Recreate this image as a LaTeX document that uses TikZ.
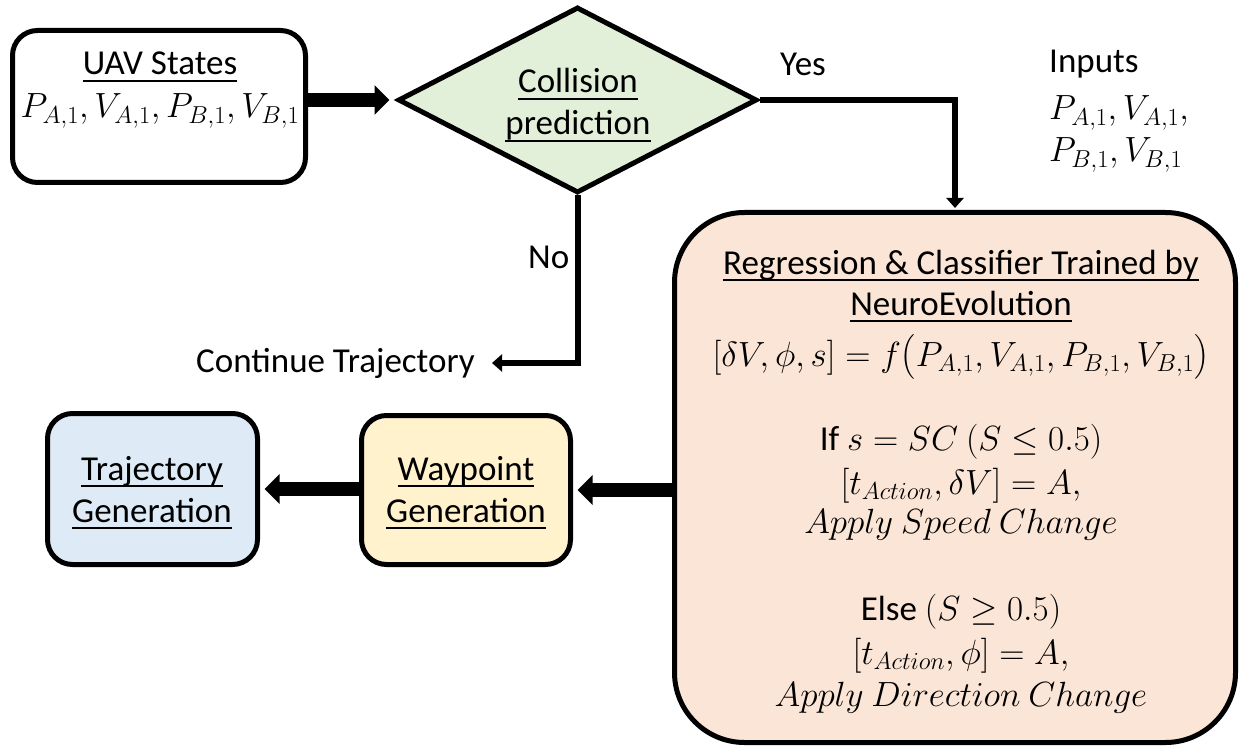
\RequirePackage{fix-cm}
\documentclass[tikz,border=0pt]{standalone}
\usepackage{amsmath}
\usepackage[no-math]{fontspec}
\setmainfont{Carlito}
\usetikzlibrary{shapes.geometric,arrows.meta}
\definecolor{diac}{RGB}{226,240,217}
\definecolor{bigc}{RGB}{251,229,214}
\definecolor{wayc}{RGB}{255,242,204}
\definecolor{trac}{RGB}{222,235,247}
\newcommand\ulx[1]{\sbox0{#1}\rlap{\rule[-7.2pt]{\wd0}{2.4pt}}\usebox0}
\begin{document}
\begin{tikzpicture}[x=1pt,y=-1pt,
  every node/.style={font=\fontsize{35}{42}\selectfont, inner sep=0pt},
  box/.style={draw, line width=5pt, rounded corners=25pt, inner sep=0pt},
  txt/.style={anchor=base, inner sep=0pt},
  txtw/.style={anchor=base west, inner sep=0pt},
  bigarrow/.style={line width=14pt, -{Triangle[length=15pt,width=29pt]}},
  thinarrow/.style={line width=6pt, -{Triangle[length=10pt,width=17pt]}}]
\useasboundingbox (0,0) rectangle (1258,754);

% UAV states
\node[box, fill=white, minimum width=293pt, minimum height=152pt] (uav) at (159,106.5) {};
\node[txt] (uavt) at (160,75) {\ulx{UAV States}};
\node[txt] (uavm) at (160,118) {$P_{A,1},V_{A,1},P_{B,1},V_{B,1}$};

% Decision
\node[diamond, draw, line width=5pt, fill=diac, minimum width=359pt, minimum height=186pt, inner sep=0pt] (dia) at (577.5,100) {};
\node[txt] (diat1) at (578,93) {\ulx{Collision}};
\node[txt] (diat2) at (578,135) {\ulx{prediction}};

% Big box
\node[box, rounded corners=70pt, fill=bigc, minimum width=561pt, minimum height=530pt] (big) at (955,477.5) {};
\node[txt] (b1) at (961,274) {\ulx{Regression \& Classifier Trained by}};
\node[txt] (b2) at (961,315) {\ulx{NeuroEvolution}};
\node[txt] (b3) at (961,366) {$[\delta V,\phi,s]=f\bigl(P_{A,1},V_{A,1},P_{B,1},V_{B,1}\bigr)$};
\node[txt] (b4) at (961,450) {If $s=SC$ $(S\leq 0.5)$};
\node[txt] (b5) at (961,494) {$[t_{Action},\delta V]=A,$};
\node[txt] (b6) at (961,533) {$Apply\ Speed\ Change$};
\node[txt] (b7) at (961,620) {Else $(S\geq 0.5)$};
\node[txt] (b8) at (961,664) {$[t_{Action},\phi]=A,$};
\node[txt] (b9) at (961,706) {$Apply\ Direction\ Change$};

% Waypoint and trajectory
\node[box, fill=wayc, minimum width=209pt, minimum height=149pt] (way) at (466,490) {};
\node[txt] (wt1) at (466,480) {\ulx{Waypoint}};
\node[txt] (wt2) at (466,522) {\ulx{Generation}};
\node[box, fill=trac, minimum width=210pt, minimum height=151pt] (traj) at (152.5,489) {};
\node[txt] (tt1) at (152,480) {\ulx{Trajectory}};
\node[txt] (tt2) at (152,522) {\ulx{Generation}};

% Free texts
\node[txtw] (yes) at (780,76) {Yes};
\node[txtw] (no) at (528,268) {No};
\node[anchor=base east] (cont) at (475,372) {Continue Trajectory};
\node[txtw] (inp) at (1049,73) {Inputs};
\node[txtw] (inp2) at (1049,120) {$P_{A,1},V_{A,1},$};
\node[txtw] (inp3) at (1049,162) {$P_{B,1},V_{B,1}$};

% Connectors
\draw[bigarrow, shorten >=6pt] (uav.east |- dia.west) -- (dia.west);
\draw[thinarrow, shorten >=2pt] (dia.east) -| (big.north);
\coordinate (ct) at (492,363);
\draw[thinarrow] (dia.south) |- (ct);
\draw[bigarrow, shorten >=4.5pt] (big.west |- way.east) -- (way.east);
\draw[bigarrow, shorten >=4.5pt] (way.west |- traj.east) -- (traj.east);
\end{tikzpicture}
\end{document}
